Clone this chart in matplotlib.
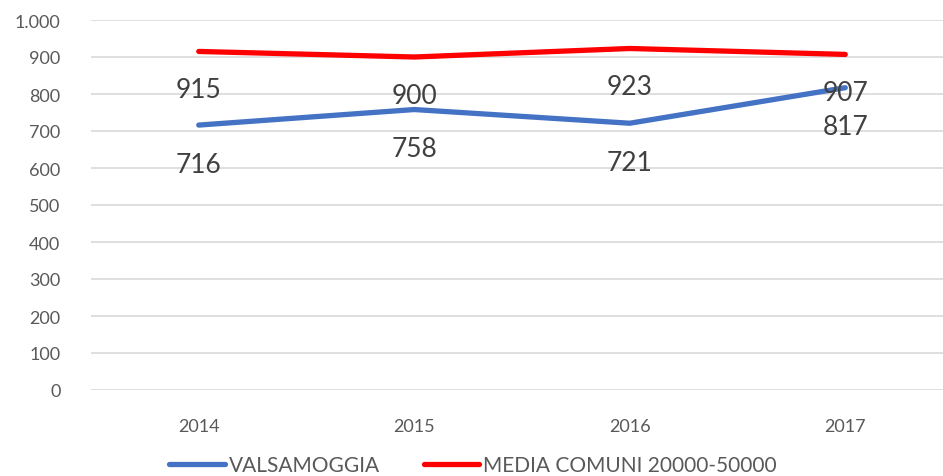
import matplotlib
matplotlib.use('Agg')
import matplotlib.pyplot as plt

years = ['2014', '2015', '2016', '2017']
valsamoggia = [716, 758, 721, 817]
media_comuni = [915, 900, 923, 907]
yticks = [0, 100, 200, 300, 400, 500, 600, 700, 800, 900, 1000]
ytick_labels = ['0', '100', '200', '300', '400', '500', '600', '700', '800', '900', '1.000']

plt.rcParams['font.family'] = ['Lato', 'DejaVu Sans']

fig = plt.figure(figsize=(9.43, 4.77), dpi=100)
# reference is cropped on the right, so the axes run slightly past the figure edge
ax = fig.add_axes([91 / 943, (477 - 391) / 477, 862 / 943, 370 / 477])

x = list(range(len(years)))
ax.plot(x, valsamoggia, color='#4472C4', linewidth=3.8, solid_capstyle='round',
        label='VALSAMOGGIA', zorder=3)
ax.plot(x, media_comuni, color='#FF0000', linewidth=3.8, solid_capstyle='round',
        label='MEDIA COMUNI 20000-50000', zorder=3)

for xi, v in zip(x, valsamoggia):
    ax.annotate(str(v), (xi, v), xytext=(0, -39), textcoords='offset pixels',
                ha='center', va='center', fontsize=19, color='#404040')
for xi, v in zip(x, media_comuni):
    ax.annotate(str(v), (xi, v), xytext=(0, -38), textcoords='offset pixels',
                ha='center', va='center', fontsize=19, color='#404040')

ax.set_xlim(-0.5, 3.5)
ax.set_ylim(0, 1000)
ax.set_xticks(x)
ax.set_xticklabels(years)
ax.set_yticks(yticks)
ax.set_yticklabels(ytick_labels)
ax.tick_params(axis='both', length=0, labelsize=13, labelcolor='#595959')
ax.tick_params(axis='x', pad=20)
ax.tick_params(axis='y', pad=22)
ax.grid(axis='y', color='#d9d9d9', linewidth=1.2, zorder=0)
for s in ax.spines.values():
    s.set_visible(False)

ax.legend(loc='center', bbox_to_anchor=(473 / 943, 11 / 477), bbox_transform=fig.transFigure,
          ncol=2, frameon=False, fontsize=15, labelcolor='#595959',
          handlelength=2.65, handletextpad=0.2, columnspacing=2.1)

fig.savefig('out.png', dpi=100)
